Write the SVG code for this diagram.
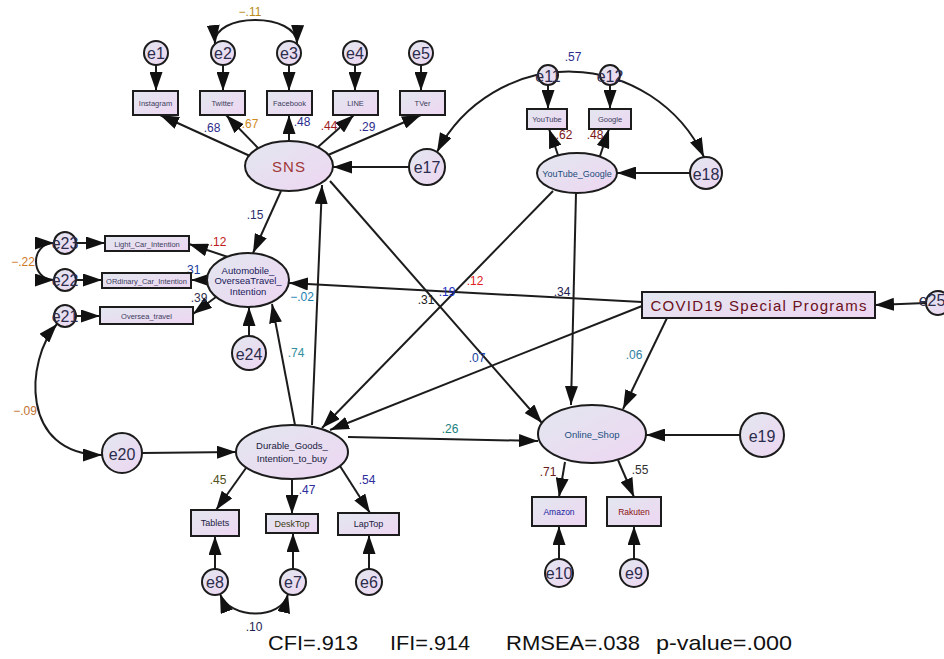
<svg xmlns="http://www.w3.org/2000/svg" width="944" height="659" viewBox="0 0 944 659">
<defs>
<linearGradient id="g" x1="0" y1="0" x2="1" y2="1">
<stop offset="0" stop-color="#e2e7ef"/>
<stop offset="1" stop-color="#eed6f2"/>
</linearGradient>
<marker id="a" viewBox="0 0 19 13" refX="19" refY="6.5" markerWidth="19" markerHeight="13" markerUnits="userSpaceOnUse" orient="auto-start-reverse">
<path d="M0,0 L19,6.5 L0,13 z" fill="#111"/>
</marker>
<style>
.n{fill:url(#g);stroke:#1c1c1c;stroke-width:2}
.c{fill:none;stroke:#1c1c1c;stroke-width:2;marker-end:url(#a)}
.d{fill:none;stroke:#1c1c1c;stroke-width:2;marker-start:url(#a);marker-end:url(#a)}
text{font-family:"Liberation Sans",Arial,sans-serif;text-anchor:middle}
.b{font-size:7.5px;fill:#3c3c5c}
.e{font-size:16px;fill:#2c2c4c}
.v{font-size:12px}
.f{font-size:21px;fill:#111;text-anchor:start}
</style>
</defs>
<rect width="944" height="659" fill="#fff"/>

<g id="connectors">
<line class="c" x1="156" y1="65" x2="156" y2="91"/>
<line class="c" x1="223" y1="65" x2="223" y2="91"/>
<line class="c" x1="289" y1="65" x2="289" y2="91"/>
<line class="c" x1="355" y1="65" x2="355" y2="91"/>
<line class="c" x1="421" y1="65" x2="421" y2="91"/>
<line class="c" x1="250" y1="156" x2="160" y2="115"/>
<line class="c" x1="258" y1="148" x2="226" y2="115"/>
<line class="c" x1="289" y1="141" x2="289" y2="115"/>
<line class="c" x1="318" y1="147" x2="354" y2="115"/>
<line class="c" x1="328" y1="155" x2="421" y2="115"/>
<path class="d" d="M215,44 C212,12 298,12 297,44"/>
<line class="c" x1="409" y1="167" x2="333" y2="167"/>
<path class="d" d="M437,152 A149,149 0 0 1 704,157"/>
<line class="c" x1="690" y1="173" x2="617" y2="173"/>
<line class="c" x1="558" y1="155" x2="549" y2="129"/>
<line class="c" x1="600" y1="156" x2="609" y2="129"/>
<line class="c" x1="548" y1="85" x2="548" y2="109"/>
<line class="c" x1="610" y1="85" x2="610" y2="109"/>
<line class="c" x1="281" y1="191" x2="253" y2="253"/>
<line class="c" x1="312" y1="425" x2="322" y2="185"/>
<line class="c" x1="295" y1="425" x2="272" y2="304"/>
<line class="c" x1="228" y1="257" x2="189" y2="244"/>
<line class="c" x1="207" y1="280" x2="191" y2="280"/>
<line class="c" x1="216" y1="297" x2="193" y2="314"/>
<line class="c" x1="249" y1="336" x2="249" y2="307"/>
<line class="c" x1="76" y1="243" x2="105" y2="243"/>
<line class="c" x1="76" y1="280" x2="102" y2="280"/>
<line class="c" x1="76" y1="316" x2="100" y2="316"/>
<path class="d" d="M54,243 C30,243 30,280 54,280"/>
<path class="d" d="M57,324 C25,360 20,455 102,455"/>
<line class="c" x1="142" y1="453" x2="236" y2="452"/>
<line class="c" x1="642" y1="302" x2="289" y2="283"/>
<line class="c" x1="642" y1="306" x2="330" y2="430"/>
<line class="c" x1="553" y1="191" x2="322" y2="428"/>
<line class="c" x1="330" y1="181" x2="542" y2="423"/>
<line class="c" x1="576" y1="193" x2="571" y2="405"/>
<line class="c" x1="667" y1="318" x2="623" y2="409"/>
<line class="c" x1="348" y1="437" x2="538" y2="441"/>
<line class="c" x1="740" y1="435" x2="646" y2="435"/>
<line class="c" x1="565" y1="462" x2="559" y2="497"/>
<line class="c" x1="618" y1="460" x2="634" y2="497"/>
<line class="c" x1="559" y1="559" x2="559" y2="526"/>
<line class="c" x1="634" y1="559" x2="634" y2="526"/>
<line class="c" x1="246" y1="468" x2="216" y2="510"/>
<line class="c" x1="292" y1="479" x2="292" y2="514"/>
<line class="c" x1="340" y1="466" x2="370" y2="513"/>
<line class="c" x1="215" y1="569" x2="215" y2="536"/>
<line class="c" x1="293" y1="569" x2="293" y2="533"/>
<line class="c" x1="369" y1="569" x2="369" y2="535"/>
<path class="d" d="M220,594 C230,620 282,620 288,594"/>
<line class="c" x1="926" y1="303" x2="875" y2="305"/>
</g>

<g id="labels" class="v">
<text x="250" y="16" fill="#b88a18">−.11</text>
<text x="212" y="132" fill="#2c2c8c">.68</text>
<text x="250" y="128" fill="#d08a20">.67</text>
<text x="302" y="126" fill="#2c2c8c">.48</text>
<text x="329" y="130" fill="#9c1c1c">.44</text>
<text x="367" y="131" fill="#2c2c8c">.29</text>
<text x="573" y="61" fill="#2c2c8c">.57</text>
<text x="564" y="139" fill="#7a1818">.62</text>
<text x="595" y="139" fill="#7a1818">.48</text>
<text x="255" y="219" fill="#2c2c6c">.15</text>
<text x="218" y="246" fill="#c01818">.12</text>
<text x="192" y="274" fill="#2040a0">.31</text>
<text x="199" y="302" fill="#303050">.39</text>
<text x="302" y="301" fill="#2080b0">−.02</text>
<text x="296" y="357" fill="#3090a0">.74</text>
<text x="23" y="266" fill="#d07828">−.22</text>
<text x="25" y="415" fill="#c07030">−.09</text>
<text x="475" y="285" fill="#e02020">.12</text>
<text x="447" y="296" fill="#2030c0">.19</text>
<text x="426" y="304" fill="#202020">.31</text>
<text x="562" y="296" fill="#202050">.34</text>
<text x="477" y="362" fill="#2040a0">.07</text>
<text x="634" y="359" fill="#3080a0">.06</text>
<text x="450" y="433" fill="#208080">.26</text>
<text x="218" y="484" fill="#505020">.45</text>
<text x="307" y="494" fill="#2c2c9c">.47</text>
<text x="367" y="484" fill="#2c2c9c">.54</text>
<text x="254" y="631" fill="#202050">.10</text>
<text x="548" y="476" fill="#6a1a1a">.71</text>
<text x="640" y="474" fill="#303030">.55</text>
</g>

<g id="e1"><circle class="n" cx="156" cy="53" r="12"/><text class="e" x="156" y="59" fill="#a02838">e1</text></g>
<g id="e2"><circle class="n" cx="223" cy="53" r="12"/><text class="e" x="223" y="59">e2</text></g>
<g id="e3"><circle class="n" cx="289" cy="53" r="12"/><text class="e" x="289" y="59" fill="#302080">e3</text></g>
<g id="e4"><circle class="n" cx="355" cy="53" r="12"/><text class="e" x="355" y="59">e4</text></g>
<g id="e5"><circle class="n" cx="421" cy="53" r="12"/><text class="e" x="421" y="59" fill="#a02838">e5</text></g>
<g id="Instagram"><rect class="n" x="133" y="91" width="45" height="24"/><text class="b" x="155.5" y="106">Instagram</text></g>
<g id="Twitter"><rect class="n" x="200" y="91" width="45" height="24"/><text class="b" x="222.5" y="106">Twitter</text></g>
<g id="Facebook"><rect class="n" x="267" y="91" width="45" height="24"/><text class="b" x="289.5" y="106">Facebook</text></g>
<g id="LINE"><rect class="n" x="333" y="91" width="45" height="24"/><text class="b" x="355.5" y="106">LINE</text></g>
<g id="TVer"><rect class="n" x="400" y="91" width="45" height="24"/><text class="b" x="422.5" y="106">TVer</text></g>
<g id="SNS"><ellipse class="n" cx="289" cy="166" rx="44" ry="25"/><text x="289" y="172" font-size="15" letter-spacing="1" fill="#a03838">SNS</text></g>
<g id="e17"><circle class="n" cx="427" cy="167" r="18"/><text class="e" x="427" y="173" font-size="18">e17</text></g>
<g id="e11"><circle class="n" cx="548" cy="75" r="10"/><text class="e" x="548" y="82" font-size="15">e11</text></g>
<g id="e12"><circle class="n" cx="610" cy="75" r="10"/><text class="e" x="610" y="82" font-size="15" fill="#c03838">e12</text></g>
<g id="YouTube"><rect class="n" x="527" y="109" width="40" height="20"/><text class="b" x="547" y="122">YouTube</text></g>
<g id="Google"><rect class="n" x="589" y="109" width="42" height="20"/><text class="b" x="610" y="122">Google</text></g>
<g id="YouTube_Google"><ellipse class="n" cx="577" cy="173" rx="40" ry="20"/><text x="577" y="176.5" font-size="9" fill="#1a4a7a">YouTube_Google</text></g>
<g id="e18"><circle class="n" cx="706" cy="173" r="16"/><text class="e" x="706" y="179.5" font-size="18" fill="#5a2a3a">e18</text></g>
<g id="e23"><circle class="n" cx="65" cy="243" r="11"/><text class="e" x="65" y="249" font-size="15" fill="#c03040">e23</text></g>
<g id="e22"><circle class="n" cx="65" cy="280" r="11"/><text class="e" x="65" y="286" font-size="15" fill="#c03040">e22</text></g>
<g id="e21"><circle class="n" cx="65" cy="316" r="11"/><text class="e" x="65" y="322" font-size="15" fill="#c03040">e21</text></g>
<g id="Light_Car_Intention"><rect class="n" x="105" y="236" width="84" height="15"/><text class="b" x="147" y="246.5">Light_Car_Intention</text></g>
<g id="ORdinary_Car_Intention"><rect class="n" x="102" y="273" width="89" height="15"/><text class="b" x="146.5" y="283.5" font-size="7">ORdinary_Car_Intention</text></g>
<g id="Oversea_travel"><rect class="n" x="100" y="307" width="93" height="17"/><text class="b" x="146.5" y="318.5">Oversea_travel</text></g>
<g id="Automobile"><ellipse class="n" cx="248" cy="280" rx="41" ry="27"/><text x="248" y="273.5" font-size="9.5" fill="#1a1a5a">Automobile_</text><text x="248" y="284" font-size="9.5" fill="#1a1a5a">OverseaTravel_</text><text x="248" y="294.5" font-size="9.5" fill="#1a1a5a">Intention</text></g>
<g id="e24"><circle class="n" cx="249" cy="353" r="17"/><text class="e" x="249" y="359.5" font-size="18">e24</text></g>
<g id="COVID19"><rect class="n" x="642" y="292" width="233" height="26"/><text x="758.5" y="310.5" font-size="15" textLength="216" lengthAdjust="spacing" fill="#6a1020">COVID19 Special Programs</text></g>
<g id="e25"><circle class="n" cx="938" cy="303" r="12"/><text class="e" x="932" y="306" font-size="8.5">e25</text></g>
<g id="e20"><circle class="n" cx="122" cy="453" r="20"/><text class="e" x="122" y="459.5" font-size="18" fill="#303070">e20</text></g>
<g id="Durable_Goods"><ellipse class="n" cx="292" cy="452" rx="56" ry="27"/><text x="292" y="449" font-size="9.5" fill="#202040">Durable_Goods_</text><text x="292" y="461.5" font-size="9.5" fill="#202040">Intention_to_buy</text></g>
<g id="Tablets"><rect class="n" x="191" y="510" width="48" height="26"/><text x="215" y="526" font-size="9" fill="#202040">Tablets</text></g>
<g id="DeskTop"><rect class="n" x="266" y="514" width="52" height="19"/><text x="292" y="526.5" font-size="9" fill="#3a3a10">DeskTop</text></g>
<g id="LapTop"><rect class="n" x="338" y="513" width="61" height="22"/><text x="368.5" y="527" font-size="9" fill="#202040">LapTop</text></g>
<g id="e8"><circle class="n" cx="215" cy="582" r="13"/><text class="e" x="215" y="588" fill="#7a1a2a">e8</text></g>
<g id="e7"><circle class="n" cx="293" cy="582" r="13"/><text class="e" x="293" y="588" fill="#303070">e7</text></g>
<g id="e6"><circle class="n" cx="369" cy="582" r="13"/><text class="e" x="369" y="588" fill="#6a1a2a">e6</text></g>
<g id="Online_Shop"><ellipse class="n" cx="592" cy="434" rx="54" ry="29"/><text x="592" y="437.5" font-size="9.5" fill="#205080">Online_Shop</text></g>
<g id="e19"><circle class="n" cx="762" cy="435" r="22"/><text class="e" x="762" y="441.5" font-size="18">e19</text></g>
<g id="Amazon"><rect class="n" x="532" y="497" width="54" height="29"/><text x="559" y="514.5" font-size="8.5" fill="#2020a0">Amazon</text></g>
<g id="Rakuten"><rect class="n" x="607" y="497" width="54" height="29"/><text x="634" y="514.5" font-size="8.5" fill="#8a1010">Rakuten</text></g>
<g id="e10"><circle class="n" cx="559" cy="573" r="14"/><text class="e" x="559" y="579" font-size="15" fill="#3030a0">e10</text></g>
<g id="e9"><circle class="n" cx="634" cy="573" r="14"/><text class="e" x="634" y="579" font-size="15" fill="#505060">e9</text></g>

<g id="fit">
<text class="f" x="268" y="650" textLength="90" lengthAdjust="spacingAndGlyphs">CFI=.913</text>
<text class="f" x="390" y="650" textLength="80" lengthAdjust="spacingAndGlyphs">IFI=.914</text>
<text class="f" x="506" y="650" textLength="134" lengthAdjust="spacingAndGlyphs">RMSEA=.038</text>
<text class="f" x="656" y="650" textLength="136" lengthAdjust="spacingAndGlyphs">p-value=.000</text>
</g>
</svg>
